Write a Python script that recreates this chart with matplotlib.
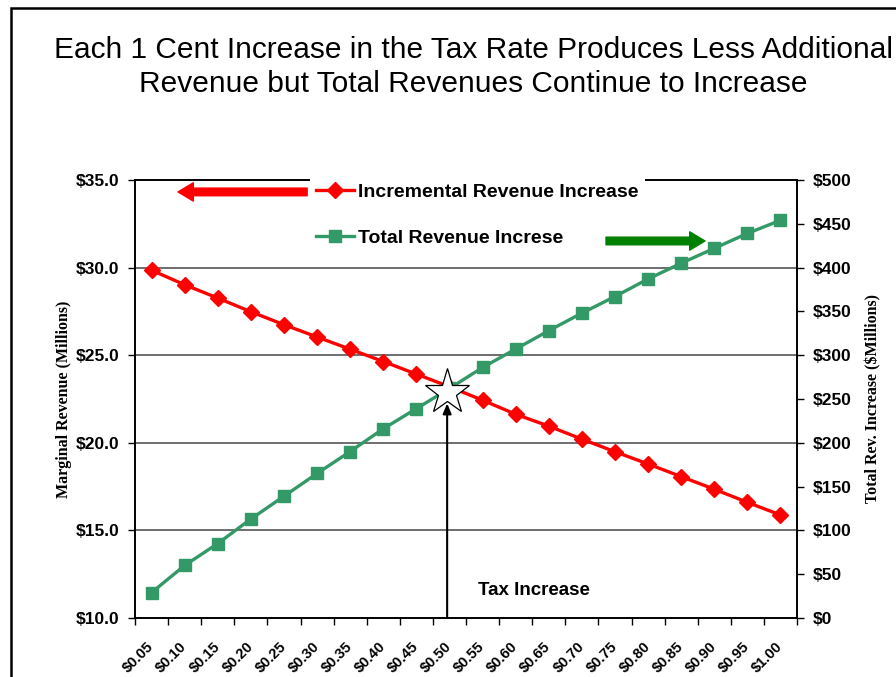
import matplotlib.pyplot as plt
from matplotlib.patches import Rectangle
from matplotlib.ticker import FuncFormatter, MultipleLocator, FixedLocator


TAX_RATES = [
    "$0.05", "$0.10", "$0.15", "$0.20", "$0.25", "$0.30", "$0.35", "$0.40", "$0.45", "$0.50",
    "$0.55", "$0.60", "$0.65", "$0.70", "$0.75", "$0.80", "$0.85", "$0.90", "$0.95", "$1.00",
]
INCREMENTAL_REVENUE = [
    29.85, 29.02, 28.26, 27.48, 26.74, 26.04, 25.34, 24.64, 23.92, 23.2,
    22.43, 21.63, 20.95, 20.21, 19.49, 18.79, 18.07, 17.35, 16.6, 15.88,
]
TOTAL_REVENUE = [
    29, 60, 85, 113, 139, 165, 190, 216, 239, 262,
    286, 307, 328, 348, 367, 387, 405, 422, 439, 454,
]
STAR_INDEX = 9
STAR_TOTAL = 258

TITLE = (
    "Each 1 Cent Increase in the Tax Rate Produces Less Additional\n"
    "Revenue but Total Revenues Continue to Increase"
)

RED = "#FF0000"
GREEN = "#339966"
DARK_GREEN = "#008000"
SANS = "Liberation Sans"
SERIF = "Liberation Serif"


def draw_arrow(ax, start, end, color):
    ax.annotate(
        "",
        xy=end,
        xytext=start,
        arrowprops=dict(
            arrowstyle="simple,head_width=1.2,head_length=1.0,tail_width=0.5",
            color=color,
            mutation_scale=11,
            shrinkA=0,
            shrinkB=0,
        ),
        zorder=8,
    )


def main():
    fig = plt.figure(figsize=(8.96, 6.77), dpi=100)
    fig.patches.append(
        Rectangle((0.0123, -0.1), 1.2, 1.088, transform=fig.transFigure,
                  fill=False, edgecolor="black", linewidth=1.8)
    )

    ax = fig.add_axes([0.1507, 0.0872, 0.7388, 0.6469])
    ax2 = ax.twinx()
    positions = list(range(len(TAX_RATES)))

    red_line, = ax.plot(positions, INCREMENTAL_REVENUE, color=RED, marker="D",
                        markersize=8, linewidth=2.4, label="Incremental Revenue Increase",
                        zorder=4)
    green_line, = ax2.plot(positions, TOTAL_REVENUE, color=GREEN, marker="s",
                           markersize=8, linewidth=2.4, label="Total Revenue Increse",
                           zorder=4)

    ax.set_xlim(-0.5, len(TAX_RATES) - 0.5)
    ax.set_ylim(10, 35)
    ax2.set_ylim(0, 500)

    ax.yaxis.set_major_locator(MultipleLocator(5))
    ax.yaxis.set_major_formatter(FuncFormatter(lambda v, _: f"${v:.1f}"))
    ax2.yaxis.set_major_locator(MultipleLocator(50))
    ax2.yaxis.set_major_formatter(FuncFormatter(lambda v, _: f"${v:.0f}"))

    ax.xaxis.set_major_locator(FixedLocator([p - 0.5 for p in range(len(TAX_RATES) + 1)]))
    ax.xaxis.set_major_formatter(FuncFormatter(lambda v, _: ""))
    ax.xaxis.set_minor_locator(FixedLocator(positions))
    ax.set_xticklabels(TAX_RATES, minor=True)
    ax.tick_params(axis="x", which="minor", length=0, pad=19)
    for label in ax.get_xticklabels(minor=True):
        label.set_rotation(45)
        label.set_ha("right")
        label.set_va("center")
        label.set_rotation_mode("anchor")
        label.set_fontsize(10.5)
        label.set_fontweight("bold")
        label.set_family(SANS)

    ax.tick_params(axis="x", which="major", direction="out", length=5, width=1)
    ax.tick_params(axis="y", direction="out", length=5, width=1, labelsize=12.5, pad=6)
    ax2.tick_params(axis="y", direction="out", length=5, width=1, labelsize=12.5, pad=6)
    for label in ax.get_yticklabels() + ax2.get_yticklabels():
        label.set_fontweight("bold")
        label.set_family(SANS)

    for y in [15, 20, 25, 30]:
        ax.axhline(y, color="#555555", linewidth=1.2, zorder=1)

    for spine in list(ax.spines.values()) + list(ax2.spines.values()):
        spine.set_linewidth(1.2)
        spine.set_color("black")

    ax.set_ylabel("Marginal Revenue (Millions)", family=SERIF, fontweight="bold",
                  fontsize=11.5, labelpad=3)
    ax2.set_ylabel("Total Rev. Increase ($Millions)", family=SERIF, fontweight="bold",
                   fontsize=11.5, labelpad=10, rotation=90)

    # tax increase pointer and the star where the two series cross
    ax.annotate("", xy=(STAR_INDEX - 0.07, 22.25), xytext=(STAR_INDEX - 0.07, 10),
                arrowprops=dict(arrowstyle="-|>,head_width=0.25,head_length=0.6",
                                color="black", linewidth=1.5, shrinkA=0, shrinkB=0),
                zorder=6)
    ax2.plot([STAR_INDEX - 0.07], [STAR_TOTAL], marker="*", markersize=34,
             markerfacecolor="white", markeredgecolor="black", markeredgewidth=0.9,
             linestyle="none", zorder=7)
    ax.text(11.55, 11.55, "Tax Increase", fontsize=13.5, fontweight="bold", family=SANS,
            ha="center", va="center")

    legend = ax2.legend(
        [red_line, green_line],
        [red_line.get_label(), green_line.get_label()],
        loc="upper left",
        bbox_to_anchor=(300 / 896, 1 - 168 / 677),
        bbox_transform=fig.transFigure,
        frameon=True,
        fancybox=False,
        facecolor="white",
        edgecolor="none",
        framealpha=1,
        prop={"family": SANS, "weight": "bold", "size": 14},
        labelspacing=1.45,
        handlelength=2.0,
        handletextpad=0.2,
        borderpad=0.3,
    )
    legend.set_zorder(5)

    draw_arrow(ax2, (4.70, 486.4), (0.80, 486.4), RED)
    draw_arrow(ax2, (13.73, 430.4), (16.72, 430.4), DARK_GREEN)

    fig.text(0.528, 1 - 67 / 677, TITLE, ha="center", va="center", fontsize=21.5,
             family=SANS, linespacing=1.25)

    fig.savefig("out.png", dpi=100)
    plt.close(fig)


if __name__ == "__main__":
    main()
